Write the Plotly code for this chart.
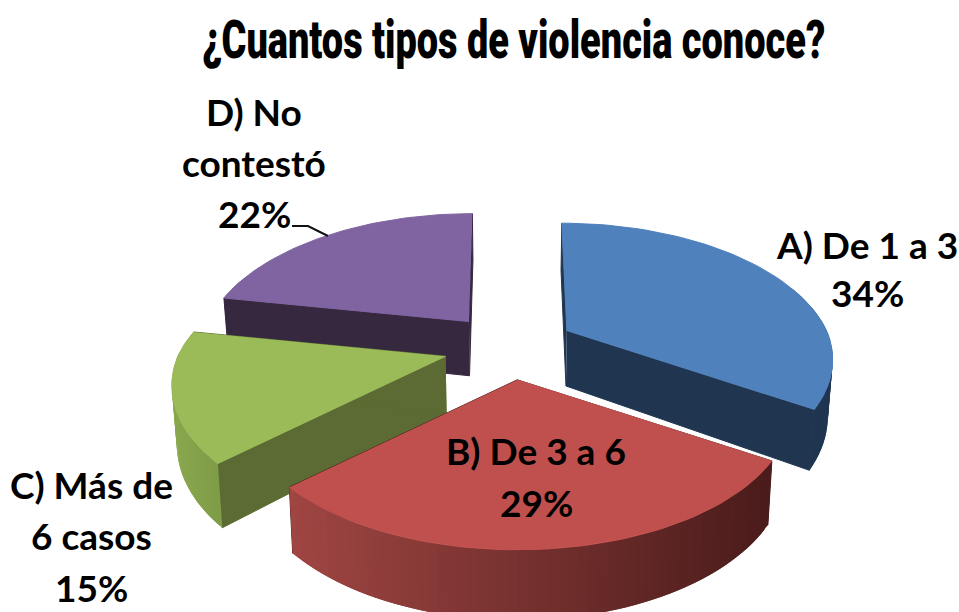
import numpy as np
import plotly.graph_objects as go

# data
title = '¿Cuantos tipos de violencia conoce?'
categories = ['A) De 1 a 3', 'B) De 3 a 6', 'C) Más de 6 casos', 'D) No contestó']
values = [34, 29, 15, 22]
label_lines = [['A) De 1 a 3'], ['B) De 3 a 6'], ['C) Más de', '6 casos'], ['D) No', 'contestó']]

top_colors = ['#4f81bd', '#c0504d', '#9bbb59', '#8064a2']
wall_colors = ['#1f3550', '#4a1d1c', '#5b6b33', '#35283f']
# colour of the outer rim at its left and right end
rim_colors = [('#1f3550', '#1f3550'), ('#a04643', '#4a1c1b'), ('#8aa84f', '#7f9c47'), ('#35283f', '#35283f')]

# geometry of the tilted pie on the 959x612 page
W, H = 959, 612
CX, CY = 509, 347
RX, RY = 260, 130.5
PERSP = 0.209
EXPLODE_X, EXPLODE_Y = 66, 33
DEPTH = 56
BASE_SHRINK = 0.985
# the slices nearer the viewer come out a bit bigger in the original
slice_scale = [1.0, 1.03, 1.03, 1.0]
slice_nudge_x = [0, 2, 0, 2]


def project(theta, off_x, off_y, scale):
    c = -np.cos(theta)
    s = 1 / (1 - PERSP * c)
    x = off_x + scale * RX * np.sin(theta) * s
    # the back of a slice is pulled towards the middle of the chart
    x = x + np.where(c < 0, (off_x - CX) * (s - 1) * 0.5, 0)
    return x, off_y + scale * RY * c * s


def to_base(x, y):
    # depth grows towards the viewer
    return CX + (x - CX) * BASE_SHRINK, y + DEPTH * (1 + PERSP * (y - CY) / 165)


def hex_rgb(h):
    return np.array([int(h[i:i + 2], 16) for i in (1, 3, 5)], dtype=float)


def poly(fig, xs, ys, color, width=1):
    fig.add_trace(go.Scatter(x=list(xs), y=list(ys), mode='lines', fill='toself', fillcolor=color,
                             line=dict(color=color, width=width), hoverinfo='skip', showlegend=False))


fig = go.Figure()

# angle of each slice, clockwise from 12 o'clock
edges = np.concatenate([[0], np.cumsum(values)]) / sum(values) * 2 * np.pi

# back to front: D, A, C, B
for i in [3, 0, 2, 1]:
    t0, t1 = edges[i], edges[i + 1]
    mid = (t0 + t1) / 2
    off_x = CX + EXPLODE_X * np.sin(mid) + slice_nudge_x[i]
    off_y = CY - EXPLODE_Y * np.cos(mid)
    ts = np.linspace(t0, t1, 61)
    ax, ay = project(ts, off_x, off_y, slice_scale[i])
    bx, by = to_base(ax, ay)
    ox, oy = to_base(off_x, off_y)

    # radial walls
    for j in (0, -1):
        poly(fig, [off_x, ax[j], bx[j], ox], [off_y, ay[j], by[j], oy], wall_colors[i])

    # outer rim, cut in overlapping strips for the gradient
    c_left, c_right = hex_rgb(rim_colors[i][0]), hex_rgb(rim_colors[i][1])
    x_min, x_max = ax.min(), ax.max()
    for k in range(len(ts) - 1):
        if -np.cos((ts[k] + ts[k + 1]) / 2) < -0.35:
            continue
        f = ((ax[k] + ax[k + 1]) / 2 - x_min) / (x_max - x_min)
        rgb = c_left + (c_right - c_left) * f
        e = min(k + 2, len(ts) - 1)
        poly(fig, [ax[k], ax[k + 1], ax[e], bx[e], bx[k + 1], bx[k]],
             [ay[k], ay[k + 1], ay[e], by[e], by[k + 1], by[k]],
             'rgb(%d,%d,%d)' % tuple(rgb), width=0)

    # top face
    poly(fig, np.r_[off_x, ax], np.r_[off_y, ay], top_colors[i])

# leader line of slice D
fig.add_shape(type='path', path='M 292 226 L 308 226 L 328 236', line=dict(color='#111111', width=2))

label_font = dict(family='Lato', size=37, color='black', weight='bold')
# label centres: (x of the block, y of the first line)
label_pos = [(867, 244), (536, 450), (91, 484), (254, 111)]
line_gap = [48, 52, 51.5, 51]
for i, lines in enumerate(label_lines):
    x, y = label_pos[i]
    for n, txt in enumerate(lines + [f'{values[i]}%']):
        fig.add_annotation(x=x, y=y + n * line_gap[i], text=txt, showarrow=False, font=label_font,
                           xanchor='center', yanchor='middle')

fig.add_annotation(x=513, y=39, text=title, showarrow=False, xanchor='center', yanchor='middle',
                   font=dict(family='Roboto', size=40, color='black', weight=900))

fig.update_layout(width=W, height=H, margin=dict(l=0, r=0, t=0, b=0), paper_bgcolor='white',
                  plot_bgcolor='white', showlegend=False,
                  xaxis=dict(range=[0, W], visible=False, fixedrange=True),
                  yaxis=dict(range=[H, 0], visible=False, fixedrange=True))

# no page margin, and stretch the title to the condensed look of the original
post = """
document.body.style.margin = '0';
document.body.style.overflow = 'hidden';
document.querySelectorAll('.annotation-text').forEach(function (t) {
    if (t.textContent.indexOf('Cuantos') >= 0) {
        t.setAttribute('textLength', '623');
        t.setAttribute('lengthAdjust', 'spacingAndGlyphs');
        t.style.transformBox = 'fill-box';
        t.style.transformOrigin = 'center';
        t.style.transform = 'scaleY(1.325)';
    }
});
"""
fig.write_html("out.html", config=dict(displayModeBar=False), post_script=post)
